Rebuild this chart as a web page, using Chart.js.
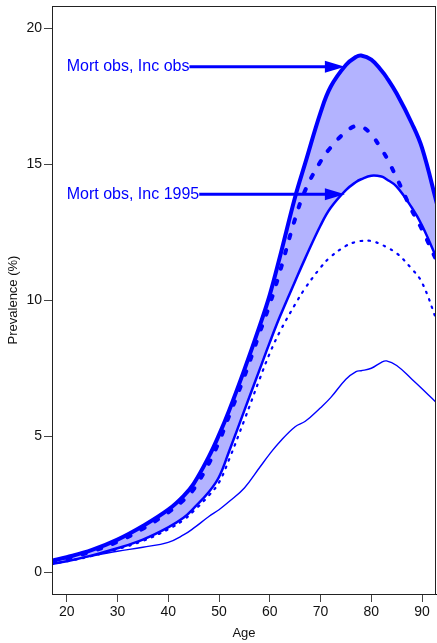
<!DOCTYPE html>
<html><head><meta charset="utf-8">
<script src="https://cdn.jsdelivr.net/npm/chart.js@4.4.1/dist/chart.umd.min.js"></script>
<style>html,body{margin:0;padding:0;background:#fff;}#wrap{width:437px;height:643px;position:relative;}</style>
</head><body><div id="wrap"><canvas id="c"></canvas></div>
<script>
const ages = [17,20,25,30,35,40,43,45,48,50,52,55,58,60,62,65,67,70,72,75,77,78,80,82,83,85,88,90,93];
const mortObsIncObs = [0.42,0.55,0.82,1.2,1.7,2.3,2.8,3.25,4.25,5.05,5.95,7.45,9.05,10.2,11.6,13.8,15.05,16.9,17.85,18.65,18.95,19.0,18.85,18.45,18.2,17.6,16.5,15.6,13.5];
const dashedSeries = [0.38,0.5,0.77,1.12,1.6,2.2,2.65,3.05,4.0,4.8,5.75,7.2,8.8,9.85,11.05,13.0,14.05,15.1,15.62,16.2,16.42,16.4,16.1,15.55,15.25,14.5,13.3,12.6,11.4];
const mortObsInc1995 = [0.3,0.4,0.62,0.88,1.2,1.65,2.0,2.35,2.95,3.5,4.45,5.95,7.45,8.45,9.4,10.7,11.55,12.75,13.4,14.05,14.35,14.45,14.58,14.55,14.45,14.18,13.4,12.75,11.5];
const dottedSeries = [0.3,0.4,0.6,0.85,1.15,1.58,1.92,2.25,2.82,3.3,4.15,5.6,7.1,8.05,8.85,9.85,10.45,11.2,11.6,12.0,12.15,12.18,12.18,12.05,11.95,11.73,11.15,10.65,9.2];
const thinSeries = [0.33,0.42,0.6,0.77,0.92,1.1,1.37,1.62,2.05,2.3,2.6,3.1,3.85,4.35,4.8,5.35,5.55,6.05,6.42,7.1,7.38,7.41,7.5,7.72,7.77,7.6,7.1,6.75,6.2];
const xTicks = [20,30,40,50,60,70,80,90];
const yTicks = [0,5,10,15,20];
const labelTexts = ['Mort obs, Inc obs','Mort obs, Inc 1995'];
const labelAges = [20,20];
const labelValues = [18.59,13.9];
const arrowEndAges = [74.8,74.8];

const BLUE = '#0000ff';
const FONT = "'Liberation Sans', Arial, Helvetica, sans-serif";
Chart.defaults.font.family = FONT;
Chart.defaults.color = '#000';

function pts(arr){ return ages.map((a,i)=>({x:a,y:arr[i]})); }

const boxPlugin = {
  id:'box',
  afterDraw(chart){
    const {ctx, chartArea:a} = chart;
    ctx.save();
    ctx.strokeStyle = '#222';
    ctx.lineWidth = 1;
    ctx.strokeRect(Math.round(a.left)+0.5, Math.round(a.top)+0.5, Math.round(a.right-a.left)-1, Math.round(a.bottom-a.top));
    ctx.restore();
  }
};

const annotPlugin = {
  id:'annot',
  afterDatasetsDraw(chart){
    const {ctx, scales:{x, y}} = chart;
    ctx.save();
    ctx.font = '16px ' + FONT;
    ctx.textBaseline = 'middle';
    ctx.textAlign = 'left';
    for (let i=0;i<labelTexts.length;i++){
      const px = x.getPixelForValue(labelAges[i]);
      const py = y.getPixelForValue(labelValues[i]);
      ctx.fillStyle = BLUE;
      ctx.fillText(labelTexts[i], px, py);
      const w = ctx.measureText(labelTexts[i]).width;
      const ex = x.getPixelForValue(arrowEndAges[i]);
      const headLen = 20, headHalf = 6;
      ctx.strokeStyle = BLUE;
      ctx.lineWidth = 3;
      ctx.beginPath();
      ctx.moveTo(px + w, py);
      ctx.lineTo(ex - headLen + 2, py);
      ctx.stroke();
      ctx.beginPath();
      ctx.moveTo(ex, py);
      ctx.lineTo(ex - headLen, py - headHalf);
      ctx.lineTo(ex - headLen, py + headHalf);
      ctx.closePath();
      ctx.fill();
    }
    ctx.restore();
  }
};

const common = {pointRadius:0, pointHoverRadius:0, tension:0.4, borderColor:BLUE, clip:0};

new Chart(document.getElementById('c'), {
  type:'line',
  data:{
    datasets:[
      Object.assign({label:'Mort obs, Inc obs', data:pts(mortObsIncObs), borderWidth:4, fill:{target:2}, backgroundColor:'#b3b3ff'}, common),
      Object.assign({label:'dashed', data:pts(dashedSeries), borderWidth:4, borderDash:[3.5,12.5], borderCapStyle:'round', fill:false}, common),
      Object.assign({label:'Mort obs, Inc 1995', data:pts(mortObsInc1995), borderWidth:2.5, fill:false}, common),
      Object.assign({label:'dotted', data:pts(dottedSeries), borderWidth:2.2, borderDash:[1.5,6.5], borderCapStyle:'round', fill:false}, common),
      Object.assign({label:'thin', data:pts(thinSeries), borderWidth:1.4, fill:false}, common)
    ]
  },
  options:{
    responsive:true, maintainAspectRatio:false, animation:false,
    layout:{padding:{top:6,right:1,left:0,bottom:0}},
    plugins:{legend:{display:false}, tooltip:{enabled:false}, filler:{drawTime:'beforeDatasetsDraw'}},
    scales:{
      x:{type:'linear', min:17.1, max:92.75,
        afterBuildTicks(s){ s.ticks = xTicks.map(v=>({value:v})); },
        afterFit(s){ s.height = 49; s.paddingLeft = 0; s.paddingRight = 0; },
        grid:{display:true, drawOnChartArea:false, drawTicks:true, tickLength:8, color:'#444'},
        border:{display:true, color:'#000', width:1},
        ticks:{font:{size:14}, padding:2, maxRotation:0, autoSkip:false, color:'#111'},
        title:{display:true, text:'Age', font:{size:13}, padding:{top:0,bottom:2}, color:'#111'}
      },
      y:{type:'linear', min:-0.8, max:20.82,
        afterBuildTicks(s){ s.ticks = yTicks.map(v=>({value:v})); },
        afterFit(s){ s.width = 52; s.paddingTop = 0; s.paddingBottom = 0; },
        grid:{display:true, drawOnChartArea:false, drawTicks:true, tickLength:8, color:'#444'},
        border:{display:true, color:'#000', width:1},
        ticks:{font:{size:14}, padding:2, autoSkip:false, color:'#111'},
        title:{display:true, text:'Prevalence (%)', font:{size:13}, padding:{top:6,bottom:0}, color:'#111'}
      }
    }
  },
  plugins:[boxPlugin, annotPlugin]
});
</script></body></html>
